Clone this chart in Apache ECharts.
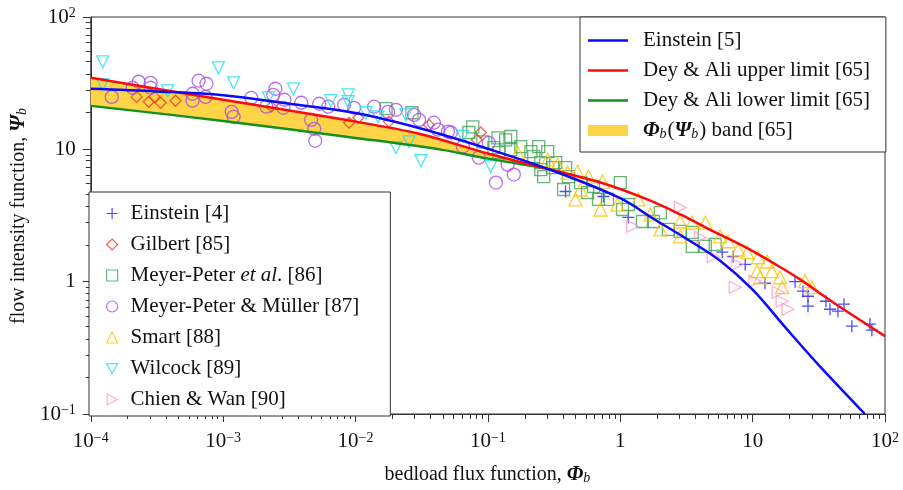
<!DOCTYPE html>
<html>
<head>
<meta charset="utf-8">
<script src="https://cdn.jsdelivr.net/npm/echarts@6/dist/echarts.min.js"></script>
<style>
html, body { margin: 0; background: #fff; }
#chart { width: 903px; height: 490px; }
</style>
</head>
<body>
<div id="chart"></div>
<script>
// 理论曲线 [Φb, Ψb]
const einsteinCurve = [[1e-4, 28.7], [3.16e-4, 27.4], [1e-3, 25.6], [3.16e-3, 22.1], [0.01, 18.8], [0.0316, 14.3],
    [0.1, 10.1], [0.316, 6.84], [1, 4.27], [1.78, 2.99], [3.16, 2.11], [5.62, 1.45], [10, 0.87], [17.8, 0.447],
    [31.6, 0.234], [70.5, 0.1]];
const upperCurve = [[1e-4, 34.7], [1e-3, 23.7], [0.01, 16.2], [0.0302, 13.1], [0.1, 9.29], [0.251, 7.3], [0.298, 7.03],
    [0.71, 5.61], [1.6, 4.18], [2.84, 3.22], [5.04, 2.4], [9.1, 1.79], [16.1, 1.29], [22.8, 1.04], [40.4, 0.7], [100, 0.388]];
const lowerCurve = [[1e-4, 21.3], [1e-3, 16.4], [0.01, 12.2], [0.0441, 9.95], [0.1, 8.51], [0.251, 7.3]];

// 实验数据 [Φb, Ψb]
const einstein4 = [[0.386, 4.8], [0.746, 4.4], [1.15, 3.06], [5.89, 1.67], [7.13, 1.55], [8.79, 1.35], [12.4, 0.973],
    [20.9, 1.0], [24.0, 0.847], [26.2, 0.776], [26.2, 0.653], [35.8, 0.711], [38.4, 0.619], [44.1, 0.598],
    [49.0, 0.676], [56.2, 0.461], [76.9, 0.478], [79.6, 0.43]];
const gilbert85 = [[2.22e-4, 24.9], [2.74e-4, 22.9], [3.03e-4, 24.9], [3.37e-4, 22.5], [4.37e-4, 23.3], [2.31e-3, 21.0],
    [8.95e-3, 15.9], [0.0105, 17.3], [0.0179, 16.2], [0.0359, 15.3], [0.0883, 13.4], [0.0824, 11.8]];
const meyerPeter86 = [[0.017, 20.3], [0.0267, 18.9], [0.0769, 14.8], [0.0916, 11.4], [0.0718, 13.4], [0.111, 10.3],
    [0.119, 12.2], [0.136, 11.8], [0.149, 12.5], [0.121, 9.44], [0.149, 9.95], [0.177, 10.5], [0.211, 9.6],
    [0.242, 10.5], [0.283, 9.6], [0.222, 8.81], [0.251, 7.94], [0.251, 7.03], [0.264, 6.23], [0.308, 7.28],
    [0.325, 7.94], [0.387, 7.28], [0.407, 6.23], [0.373, 4.97], [0.501, 5.61], [0.566, 4.72], [0.628, 5.24],
    [0.685, 4.18], [0.8, 4.18], [1.0, 5.61], [1.04, 3.51], [1.15, 3.83], [1.47, 2.85], [1.78, 2.85], [2.01, 3.33],
    [2.31, 2.48], [2.84, 2.4], [3.5, 2.36], [3.5, 1.85], [4.39, 1.85], [5.21, 1.91]];
const mpm87 = [[1.44e-4, 24.9], [2.07e-4, 29.2], [2.3e-4, 32.4], [2.83e-4, 31.8], [2.83e-4, 29.2], [5.87e-4, 26.3],
    [5.87e-4, 23.3], [6.52e-4, 33.0], [7.48e-4, 31.3], [7.36e-4, 24.9], [1.16e-3, 19.2], [1.2e-3, 17.6],
    [1.63e-3, 24.5], [2.12e-3, 21.0], [2.48e-3, 28.7], [2.39e-3, 25.8], [2.9e-3, 23.7], [2.85e-3, 20.6],
    [3.89e-3, 22.5], [4.62e-3, 16.7], [4.88e-3, 14.3], [4.96e-3, 11.6], [5.32e-3, 22.1], [6.22e-3, 21.0],
    [8.21e-3, 21.7], [9.75e-3, 20.6], [0.0138, 21.0], [0.0176, 19.2], [0.0202, 19.9], [0.0277, 18.2],
    [0.0302, 16.7], [0.0391, 15.9], [0.0419, 14.1], [0.0499, 13.6], [0.0525, 13.4], [0.0647, 10.5],
    [0.0853, 8.66], [0.1016, 11.2], [0.141, 7.67], [0.157, 6.45], [0.115, 5.61]];
const smart88 = [[0.168, 9.44], [0.283, 8.36], [0.336, 7.67], [0.4, 6.67], [0.476, 6.79], [0.501, 4.97], [0.459, 4.18],
    [0.575, 6.23], [0.734, 5.71], [0.709, 3.51], [0.953, 3.83], [1.37, 4.18], [1.69, 3.22], [2.01, 2.48],
    [2.84, 2.85], [2.84, 2.2], [3.5, 2.8], [4.39, 2.8], [5.69, 2.2], [6.53, 2.02], [7.78, 1.75], [9.1, 1.67],
    [11.0, 1.53], [12.9, 1.42], [10.8, 1.2], [11.4, 1.08], [14.0, 1.2], [16.1, 1.08], [16.7, 0.908],
    [24.9, 1.01], [28.1, 0.908]];
const wilcock89 = [[1.23e-4, 45.8], [1.23e-4, 30.8], [3.8e-4, 27.7], [9.2e-4, 41.3], [1.2e-3, 31.8], [2.2e-3, 24.5],
    [3.39e-3, 28.6], [6.5e-3, 23.3], [8.8e-3, 25.8], [8.8e-3, 22.9], [0.012, 18.9], [0.0148, 17.6],
    [0.0202, 10.3], [0.024, 18.2], [0.0254, 11.4], [0.0312, 8.2], [0.0647, 12.5], [0.105, 7.4]];
const chienWan90 = [[1.24, 2.62], [2.84, 3.64], [4.03, 2.16], [5.04, 1.55], [7.64, 1.35], [7.38, 0.908], [10.4, 1.01],
    [15.6, 0.832], [16.7, 0.711], [18.5, 0.619]];

// 坐标轴范围
const xRange = [1e-4, 100];
const yRange = [0.1, 100];

const FONT = 'Liberation Serif';
const TXT = '#111';

const richBase = {
    i: { fontFamily: FONT, fontSize: 21, fontStyle: 'italic', fontWeight: 'bold', color: TXT },
    sub: { fontFamily: FONT, fontSize: 14, fontStyle: 'italic', color: TXT, verticalAlign: 'bottom', padding: [0, 1, 0, 0] },
    it: { fontFamily: FONT, fontSize: 21, fontStyle: 'italic', color: TXT }
};
const supRich = {
    n: { fontFamily: FONT, fontSize: 21, color: TXT },
    sup: { fontFamily: FONT, fontSize: 14, color: TXT, verticalAlign: 'top' }
};

function powLabel(v) {
    const e = Math.round(Math.log10(v));
    if (e === 0) return '{n|1}';
    if (e === 1) return '{n|10}';
    return '{n|10}{sup|' + (e < 0 ? '\u2212' + (-e) : e) + '}';
}

// 符号
const SYM = {
    plus: 'path://M0,-6L0,6M-6,0L6,0',
    diamond: 'path://M0,-1L1,0L0,1L-1,0Z',
    down: 'path://M-1,-0.9L1,-0.9L0,0.9Z',
    right: 'path://M-0.9,-1L0.9,0L-0.9,1Z',
    line: 'path://M0,0L40,0L40,2.5L0,2.5Z'
};

const bandName = 'Φb(Ψb) band [65]';
const lineNames = ['Einstein [5]', 'Dey & Ali upper limit [65]', 'Dey & Ali lower limit [65]'];
const pointNames = ['Einstein [4]', 'Gilbert [85]', 'Meyer-Peter et al. [86]', 'Meyer-Peter & Müller [87]',
    'Smart [88]', 'Wilcock [89]', 'Chien & Wan [90]'];
const pointSymbols = [SYM.plus, SYM.diamond, 'rect', 'circle', 'triangle', SYM.down, SYM.right];

function hollow(name, data, symbol, color, size) {
    return {
        type: 'scatter', name: name, data: data, symbol: symbol, symbolSize: size,
        itemStyle: { color: 'rgba(0,0,0,0)', borderColor: color, borderWidth: 1.3 },
        emphasis: { disabled: true }, z: 3
    };
}

function curve(name, data, color) {
    return {
        type: 'line', name: name, data: data, symbol: 'none', smooth: 0.35,
        lineStyle: { color: color, width: 2.5 }, itemStyle: { color: color }, z: 4
    };
}

const chart = echarts.init(document.getElementById('chart'));
const axisCommon = {
    type: 'log', logBase: 10,
    axisLine: { lineStyle: { color: '#333', width: 1 } },
    axisTick: { length: 8, lineStyle: { color: '#333' } },
    minorTick: { show: true, splitNumber: 10, length: 5, lineStyle: { color: '#333' } },
    splitLine: { show: false },
    nameLocation: 'middle',
    nameTextStyle: { fontFamily: FONT, fontSize: 20, color: TXT, rich: richBase }
};

const option = {
    animation: false,
    backgroundColor: '#fff',
    grid: { left: 89, right: 18, top: 17, bottom: 75, show: true, borderColor: '#333', borderWidth: 1 },
    xAxis: Object.assign({}, axisCommon, {
        min: xRange[0], max: xRange[1],
        name: 'bedload flux function, {i|Φ}{sub|b}', nameGap: 50,
        axisLabel: { formatter: powLabel, rich: supRich, color: TXT, fontFamily: FONT, fontSize: 21, margin: 17 }
    }),
    yAxis: Object.assign({}, axisCommon, {
        min: yRange[0], max: yRange[1],
        name: 'flow intensity function, {i|Ψ}{sub|b}', nameGap: 60, nameRotate: 90,
        axisLabel: { formatter: powLabel, rich: supRich, color: TXT, fontFamily: FONT, fontSize: 21, margin: 15 }
    }),
    legend: [{
        data: lineNames.map(n => ({ name: n, icon: SYM.line })).concat([{ name: bandName, icon: 'rect' }]),
        orient: 'vertical', left: 580, top: 17,
        itemWidth: 40, itemHeight: 11, itemGap: 9,
        padding: [13, 16, 11, 8],
        borderColor: '#333', borderWidth: 1, borderRadius: 0, backgroundColor: '#fff',
        selectedMode: false,
        textStyle: { fontFamily: FONT, fontSize: 21, color: TXT, padding: [0, 0, 0, 10], rich: richBase },
        formatter: name => name === bandName ? '{i|Φ}{sub|b}({i|Ψ}{sub|b}) band [65]' : name
    }, {
        data: pointNames.map((n, k) => ({ name: n, icon: pointSymbols[k] })),
        orient: 'vertical', left: 89, top: 192,
        itemWidth: 11, itemHeight: 11, itemGap: 10,
        padding: [11, 31, 6, 17],
        borderColor: '#333', borderWidth: 1, borderRadius: 0, backgroundColor: '#fff',
        selectedMode: false,
        itemStyle: { borderWidth: 1.2 },
        textStyle: { fontFamily: FONT, fontSize: 21, color: TXT, padding: [0, 0, 0, 8], rich: richBase },
        formatter: name => name === pointNames[2] ? 'Meyer-Peter {it|et al}. [86]' : name
    }],
    series: [
        {
            type: 'custom', name: bandName, data: lowerCurve, z: 1,
            itemStyle: { color: '#ffd447' },
            renderItem: (params, api) => {
                if (params.dataIndex !== 0) return null;
                const end = lowerCurve[lowerCurve.length - 1][0];
                const top = upperCurve.filter(p => p[0] <= end).map(p => api.coord(p));
                const bottom = lowerCurve.slice().reverse().map(p => api.coord(p));
                return { type: 'polygon', shape: { points: top.concat(bottom) }, style: { fill: '#ffd447' } };
            }
        },
        hollow(pointNames[0], einstein4, pointSymbols[0], '#1f1fff', 12),
        hollow(pointNames[1], gilbert85, pointSymbols[1], '#f23a1f', 11),
        hollow(pointNames[2], meyerPeter86, pointSymbols[2], '#3fa556', 12),
        hollow(pointNames[3], mpm87, pointSymbols[3], '#a64ae8', 13),
        hollow(pointNames[4], smart88, pointSymbols[4], '#ffc300', 13),
        hollow(pointNames[5], wilcock89, pointSymbols[5], '#1fe0f0', 12),
        hollow(pointNames[6], chienWan90, pointSymbols[6], '#ff9cc6', 12),
        curve(lineNames[2], lowerCurve, '#14901f'),
        curve(lineNames[1], upperCurve, '#ff0a0a'),
        curve(lineNames[0], einsteinCurve, '#0a0aff')
    ]
};
chart.setOption(option);
</script>
</body>
</html>
